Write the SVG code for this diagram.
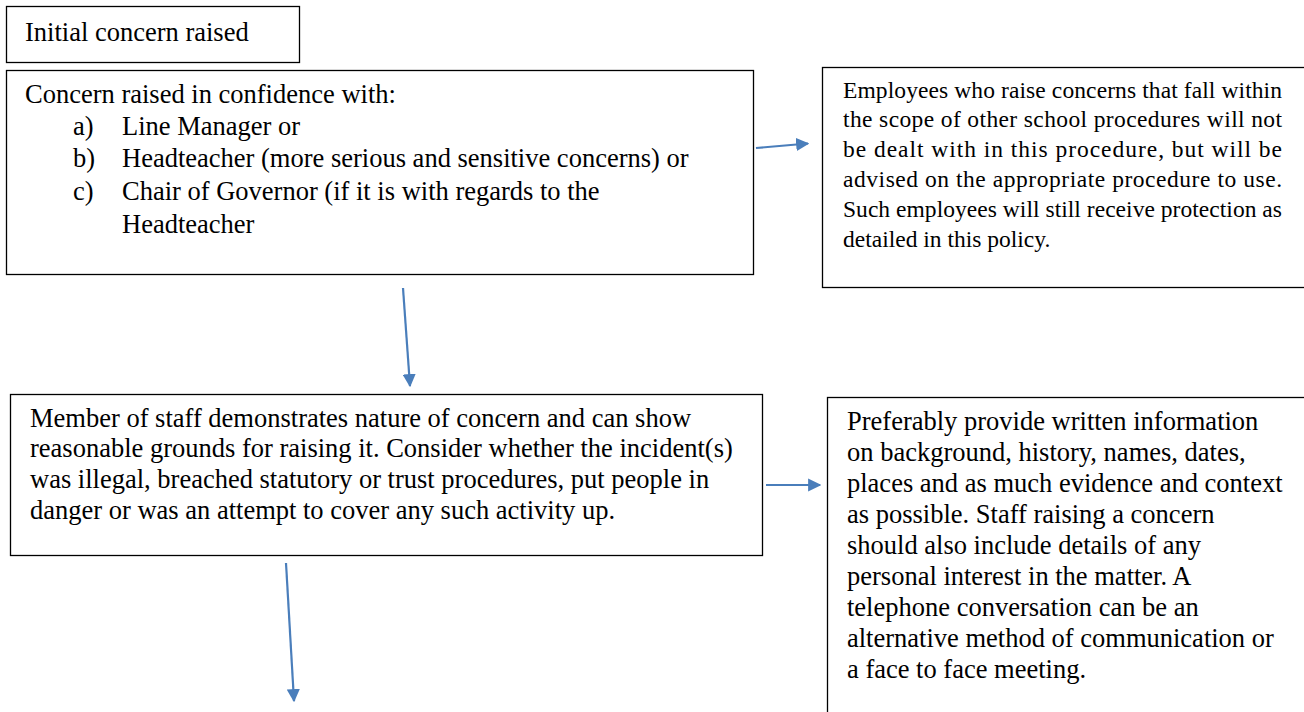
<svg xmlns="http://www.w3.org/2000/svg" width="1304" height="712" viewBox="0 0 1304 712">
<style>
.box{fill:#fff;stroke:#000;stroke-width:1.3}
.t{font-family:"Liberation Serif","Times New Roman",serif;font-size:26.5px;fill:#000}
.s{font-family:"Liberation Serif","Times New Roman",serif;font-size:23.5px;fill:#000}
.c{stroke:#4a7ebb;stroke-width:2.2;fill:none}
</style>
<defs>
<marker id="ah" viewBox="0 0 10 10" refX="9" refY="5" markerWidth="6" markerHeight="6" orient="auto" markerUnits="strokeWidth">
<path d="M0,0 L10,5 L0,10 z" fill="#4a7ebb"/>
</marker>
</defs>
<g id="n1">
<rect class="box" x="6.5" y="6.5" width="293" height="56"/>
<text class="t" x="25" y="41">Initial concern raised</text>
</g>
<g id="n2">
<rect class="box" x="6.5" y="70.5" width="747" height="204"/>
<text class="t" x="25" y="103">Concern raised in confidence with:</text>
<text class="t" x="73" y="135">a)</text><text class="t" x="122" y="135">Line Manager or</text>
<text class="t" x="73" y="167">b)</text><text class="t" x="122" y="167">Headteacher (more serious and sensitive concerns) or</text>
<text class="t" x="73" y="200">c)</text><text class="t" x="122" y="200">Chair of Governor (if it is with regards to the</text>
<text class="t" x="122" y="233">Headteacher</text>
</g>
<g id="n3">
<rect class="box" x="822.5" y="67.5" width="490" height="220"/>
<text class="s" x="843" y="97.5" textLength="439" lengthAdjust="spacing">Employees who raise concerns that fall within</text>
<text class="s" x="843" y="127.3" textLength="439" lengthAdjust="spacing">the scope of other school procedures will not</text>
<text class="s" x="843" y="157.1" textLength="439" lengthAdjust="spacing">be dealt with in this procedure, but will be</text>
<text class="s" x="843" y="186.9" textLength="439" lengthAdjust="spacing">advised on the appropriate procedure to use.</text>
<text class="s" x="843" y="216.7" textLength="439" lengthAdjust="spacing">Such employees will still receive protection as</text>
<text class="s" x="843" y="246.5">detailed in this policy.</text>
</g>
<g id="n4">
<rect class="box" x="10.5" y="394.5" width="752" height="161"/>
<text class="t" x="30" y="427">Member of staff demonstrates nature of concern and can show</text>
<text class="t" x="30" y="457">reasonable grounds for raising it. Consider whether the incident(s)</text>
<text class="t" x="30" y="488">was illegal, breached statutory or trust procedures, put people in</text>
<text class="t" x="30" y="519">danger or was an attempt to cover any such activity up.</text>
</g>
<g id="n5">
<rect class="box" x="827.5" y="397.5" width="490" height="330"/>
<text class="t" x="847" y="430">Preferably provide written information</text>
<text class="t" x="847" y="461">on background, history, names, dates,</text>
<text class="t" x="847" y="492">places and as much evidence and context</text>
<text class="t" x="847" y="523">as possible. Staff raising a concern</text>
<text class="t" x="847" y="554">should also include details of any</text>
<text class="t" x="847" y="585">personal interest in the matter. A</text>
<text class="t" x="847" y="616">telephone conversation can be an</text>
<text class="t" x="847" y="647">alternative method of communication or</text>
<text class="t" x="847" y="678">a face to face meeting.</text>
</g>
<g id="connectors">
<line class="c" x1="756" y1="148" x2="808" y2="143.5" marker-end="url(#ah)"/>
<line class="c" x1="403" y1="288" x2="410" y2="386" marker-end="url(#ah)"/>
<line class="c" x1="766" y1="485" x2="820" y2="485" marker-end="url(#ah)"/>
<line class="c" x1="286" y1="563" x2="294" y2="701" marker-end="url(#ah)"/>
</g>
</svg>
